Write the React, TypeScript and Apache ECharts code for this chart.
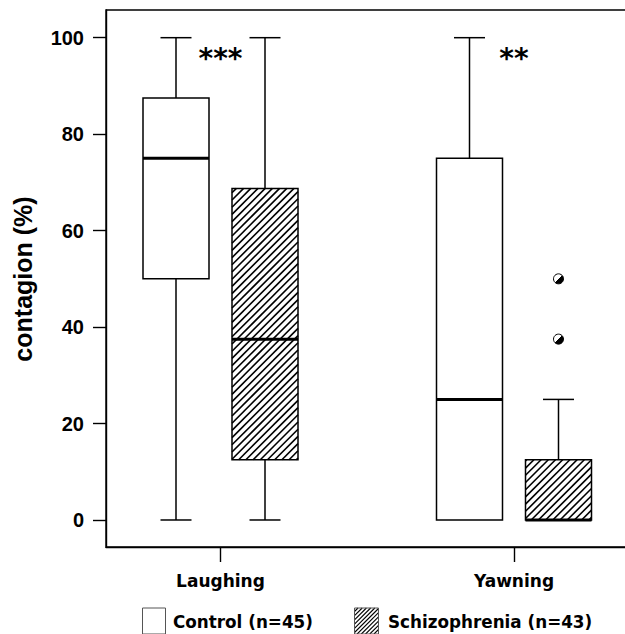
import React, { useEffect, useRef } from "react";
import * as echarts from "echarts";

// ---------- data ----------
const categories = ["Laughing", "Yawning"];
const categoryPositions = [1, 3];
const groupNames = ["Control (n=45)", "Schizophrenia (n=43)"];
// [min, Q1, median, Q3, max] per category
const controlStats = [
  [0, 50, 75, 87.5, 100],
  [0, 0, 25, 75, 100],
];
const schizophreniaStats = [
  [0, 12.5, 37.5, 68.75, 100],
  [0, 0, 0, 12.5, 25],
];
// [categoryIndex, value]
const schizophreniaOutliers = [
  [1, 37.5],
  [1, 50],
];
const significance = ["***", "**"];
const yTicks = [0, 20, 40, 60, 80, 100];
const yRange = [-5.6, 105.74];
const yAxisTitle = "contagion (%)";

// ---------- layout ----------
const W = 625;
const H = 634;
const CHART_W = 680; // wider than the page so the frame's right edge is off-page
const GRID_LEFT = 106;
const GRID_TOP = 10;
const GRID_BOTTOM_Y = 547;
const GRID_WIDTH = W - GRID_LEFT + 30;
const CAT_PX = [220.5, 514];
const PX_PER_UNIT = (CAT_PX[1] - CAT_PX[0]) / (categoryPositions[1] - categoryPositions[0]);
const X_MIN = categoryPositions[0] - (CAT_PX[0] - GRID_LEFT) / PX_PER_UNIT;
const X_MAX = X_MIN + GRID_WIDTH / PX_PER_UNIT;
const GROUP_OFFSET = 44.5;
const BOX_W = 66;
const CAP_W = 31;
const LINE_W = 1.5;
const MEDIAN_W = 3;
const SANS = "'Liberation Sans', Arial, sans-serif";
const WIDE = "'DejaVu Sans', Verdana, sans-serif";

function hatchLines(x0: number, y0: number, x1: number, y1: number, step: number, lw: number) {
  const out: any[] = [];
  const start = Math.ceil((x0 + y0) / step) * step;
  for (let c = start; c <= x1 + y1; c += step) {
    const lo = Math.max(x0, c - y1);
    const hi = Math.min(x1, c - y0);
    if (hi - lo > 0.3) {
      out.push({
        type: "line",
        silent: true,
        shape: { x1: lo, y1: c - lo, x2: hi, y2: c - hi },
        style: { stroke: "#000", lineWidth: lw },
      });
    }
  }
  return out;
}

function makeBoxRenderer(offset: number, hatched: boolean) {
  return (params: any, api: any) => {
    const c = api.value(0);
    const cx = api.coord([c, 0])[0] + offset;
    const yMin = api.coord([c, api.value(1)])[1];
    const yQ1 = api.coord([c, api.value(2)])[1];
    const yMed = api.coord([c, api.value(3)])[1];
    const yQ3 = api.coord([c, api.value(4)])[1];
    const yMax = api.coord([c, api.value(5)])[1];
    const half = BOX_W / 2;
    const cap = CAP_W / 2;
    const lineStyle = { stroke: "#000", lineWidth: LINE_W };
    const children: any[] = [];
    if (yMax < yQ3 - 0.5) {
      children.push({ type: "line", shape: { x1: cx, y1: yQ3, x2: cx, y2: yMax }, style: lineStyle });
      children.push({ type: "line", shape: { x1: cx - cap, y1: yMax, x2: cx + cap, y2: yMax }, style: lineStyle });
    }
    if (yMin > yQ1 + 0.5) {
      children.push({ type: "line", shape: { x1: cx, y1: yQ1, x2: cx, y2: yMin }, style: lineStyle });
      children.push({ type: "line", shape: { x1: cx - cap, y1: yMin, x2: cx + cap, y2: yMin }, style: lineStyle });
    }
    children.push({
      type: "rect",
      shape: { x: cx - half, y: yQ3, width: BOX_W, height: yQ1 - yQ3 },
      style: { fill: "#fff", stroke: "none" },
    });
    if (hatched) {
      children.push(...hatchLines(cx - half, yQ3, cx + half, yQ1, 7.2, 1.6));
    }
    children.push({
      type: "rect",
      shape: { x: cx - half, y: yQ3, width: BOX_W, height: yQ1 - yQ3 },
      style: { fill: "none", stroke: "#000", lineWidth: LINE_W },
    });
    children.push({
      type: "line",
      shape: { x1: cx - half, y1: yMed, x2: cx + half, y2: yMed },
      style: { stroke: "#000", lineWidth: MEDIAN_W },
    });
    return { type: "group", children };
  };
}

export default function App() {
  const ref = useRef<HTMLDivElement>(null);
  useEffect(() => {
    if (!ref.current) return;
    const chart = echarts.init(ref.current, null, { renderer: "svg" });

    const controlData = controlStats.map((s, i) => [categoryPositions[i], ...s]);
    const schizoData = schizophreniaStats.map((s, i) => [categoryPositions[i], ...s]);
    const outlierData = schizophreniaOutliers.map(([ci, v]) => [categoryPositions[ci], v]);
    const starData = significance.map((s, i) => [categoryPositions[i], yTicks[yTicks.length - 1]]);

    const legendY = 608;
    const legendH = 26;
    const legendFont = `bold 16.8px ${WIDE}`;
    const legendGraphics: any[] = [
      {
        type: "rect",
        shape: { x: 142.5, y: legendY, width: 23, height: legendH },
        style: { fill: "#fff", stroke: "#555", lineWidth: 1 },
      },
      {
        type: "text",
        x: 173,
        y: 622,
        style: {
          text: groupNames[0],
          font: legendFont,
          fill: "#000",
          align: "left",
          verticalAlign: "middle",
        },
      },
      {
        type: "group",
        children: [
          {
            type: "rect",
            shape: { x: 354.5, y: legendY, width: 24, height: legendH },
            style: { fill: "#fff", stroke: "none" },
          },
          ...hatchLines(354.5, legendY, 378.5, legendY + legendH, 4.2, 1.1),
          {
            type: "rect",
            shape: { x: 354.5, y: legendY, width: 24, height: legendH },
            style: { fill: "none", stroke: "#555", lineWidth: 1 },
          },
        ],
      },
      {
        type: "text",
        x: 388,
        y: 622,
        style: {
          text: groupNames[1],
          font: legendFont,
          fill: "#000",
          align: "left",
          verticalAlign: "middle",
        },
      },
      {
        type: "text",
        x: 23,
        y: 279,
        rotation: Math.PI / 2,
        style: {
          text: yAxisTitle,
          font: `bold 25px ${SANS}`,
          fill: "#000",
          align: "center",
          verticalAlign: "middle",
        },
      },
    ];

    chart.setOption({
      animation: false,
      backgroundColor: "#fff",
      grid: {
        left: GRID_LEFT,
        top: GRID_TOP,
        width: GRID_WIDTH,
        height: GRID_BOTTOM_Y - GRID_TOP,
        show: true,
        borderColor: "#000",
        borderWidth: 1.4,
        backgroundColor: "transparent",
      },
      xAxis: {
        type: "value",
        min: X_MIN,
        max: X_MAX,
        splitLine: { show: false },
        axisLine: { show: true, onZero: false, lineStyle: { color: "#000", width: 1.4 } },
        axisTick: {
          show: true,
          length: 15,
          customValues: categoryPositions,
          lineStyle: { color: "#000", width: 1.4 },
        },
        axisLabel: {
          show: true,
          customValues: categoryPositions,
          margin: 25.5,
          formatter: (v: number) => {
            const i = categoryPositions.findIndex((p) => Math.abs(p - v) < 1e-6);
            return i >= 0 ? categories[i] : "";
          },
          color: "#000",
          fontFamily: WIDE,
          fontWeight: "bold",
          fontSize: 17,
        },
      },
      yAxis: {
        type: "value",
        min: yRange[0],
        max: yRange[1],
        splitLine: { show: false },
        axisLine: { show: true, onZero: false, lineStyle: { color: "#000", width: 1.4 } },
        axisTick: {
          show: true,
          length: 13,
          customValues: yTicks,
          lineStyle: { color: "#000", width: 1.4 },
        },
        axisLabel: {
          show: true,
          customValues: yTicks,
          margin: 22,
          color: "#000",
          fontFamily: SANS,
          fontWeight: "bold",
          fontSize: 20,
        },
      },
      graphic: legendGraphics,
      series: [
        {
          type: "custom",
          name: groupNames[0],
          data: controlData,
          renderItem: makeBoxRenderer(-GROUP_OFFSET, false),
          encode: { x: 0, y: [1, 2, 3, 4, 5] },
          z: 3,
        },
        {
          type: "custom",
          name: groupNames[1],
          data: schizoData,
          renderItem: makeBoxRenderer(GROUP_OFFSET, true),
          encode: { x: 0, y: [1, 2, 3, 4, 5] },
          z: 3,
        },
        {
          type: "scatter",
          name: "outliers",
          data: outlierData,
          symbol: "circle",
          symbolSize: 10,
          symbolOffset: [GROUP_OFFSET, 0],
          itemStyle: {
            color: new echarts.graphic.LinearGradient(0, 0, 1, 1, [
              { offset: 0, color: "#fff" },
              { offset: 0.5, color: "#fff" },
              { offset: 0.5, color: "#000" },
              { offset: 1, color: "#000" },
            ]),
            borderColor: "#000",
            borderWidth: 1,
            opacity: 1,
          },
          z: 4,
        },
        {
          type: "custom",
          name: "significance",
          data: starData,
          renderItem: (params: any, api: any) => {
            const p = api.coord([api.value(0), api.value(1)]);
            return {
              type: "text",
              x: p[0],
              y: p[1] + 7,
              style: {
                text: significance[params.dataIndex],
                font: `bold 28px ${WIDE}`,
                fill: "#000",
                align: "center",
                verticalAlign: "top",
              },
            };
          },
          z: 5,
        },
      ],
    });
    return () => chart.dispose();
  }, []);

  return (
    <div style={{ position: "absolute", left: 0, top: 0, width: W, height: H, overflow: "hidden" }}>
      <div ref={ref} style={{ width: CHART_W, height: H }} />
    </div>
  );
}
